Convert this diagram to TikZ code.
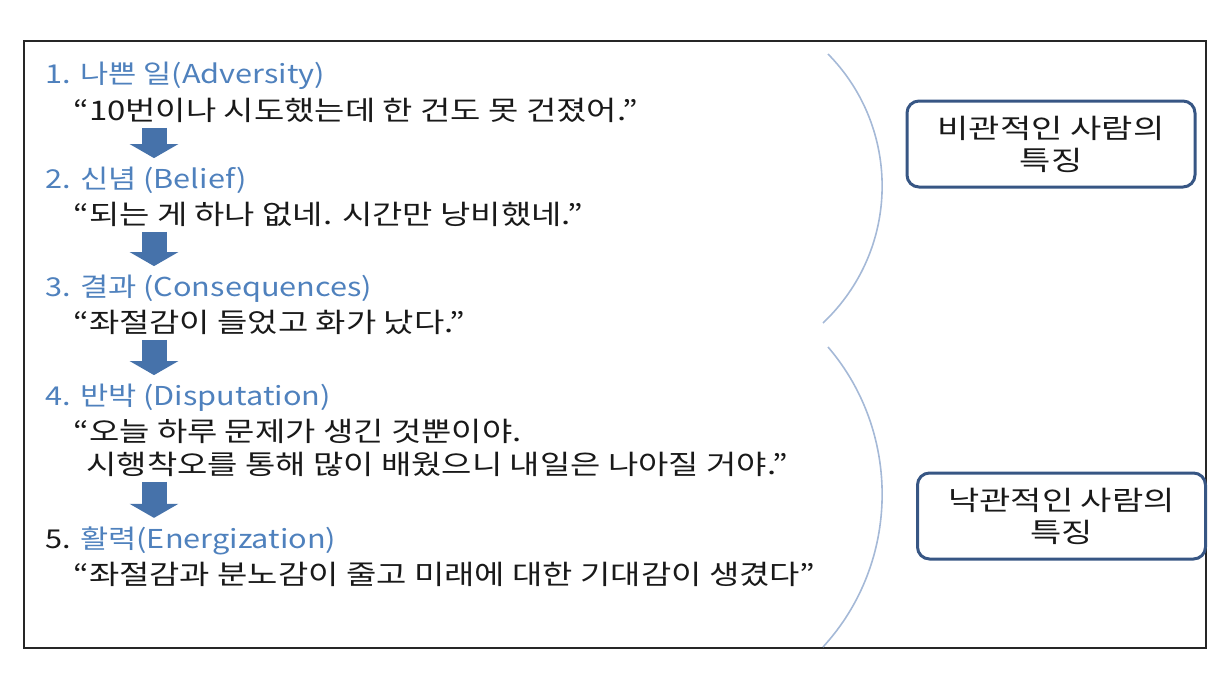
\documentclass[tikz,border=0pt]{standalone}
\usepackage{fontspec}
\setmainfont{Noto Sans CJK KR}
\newfontfamily\stagefont{Noto Sans CJK KR}[FakeStretch=1.18]
\newfontfamily\sayfont{Noto Sans CJK KR}[FakeStretch=1.22]
\newfontfamily\verdictfont{Noto Sans CJK KR}[FakeStretch=1.26]
\usetikzlibrary{arrows.meta,positioning}
\definecolor{headblue}{RGB}{79,129,189}
\definecolor{arrowblue}{RGB}{70,114,170}
\definecolor{boxblue}{RGB}{55,86,132}
\definecolor{arcblue}{RGB}{165,185,215}
\definecolor{saytext}{RGB}{25,25,25}

\begin{document}
\begin{tikzpicture}[x=0.5pt, y=-0.5pt,
		stage/.style={anchor=base west, inner sep=0pt, text=headblue, font=\stagefont\fontsize{13}{16}\selectfont},
		saying/.style={anchor=base west, inner sep=0pt, text=saytext, font=\sayfont\fontsize{13.5}{16}\selectfont},
		fatarrow/.style={draw=arrowblue, line width=12.5pt, -{Triangle[width=24pt, length=7pt]}, shorten <=2.7pt, shorten >=4pt},
		verdict/.style={draw=boxblue, line width=1.5pt, rounded corners=6pt, align=center, text=saytext, minimum width=144pt, minimum height=43pt, inner sep=0pt, font=\verdictfont\fontsize{13.5}{16}\selectfont},
		divider/.style={draw=arcblue, line width=0.8pt},
	]
	\useasboundingbox (0,0) rectangle (1223,686);
	\draw[line width=1pt, draw=black!85] (24,41) rectangle (1206,648);

	% the five steps
	\node (adv) [stage] at (45,83) {1. 나쁜 일(Adversity)};
	\node (adv q) [saying] at (73,120) {“10번이나 시도했는데 한 건도 못 건졌어.”};
	\node (bel) [stage] at (45,188) {2. 신념 (Belief)};
	\node (bel q) [saying] at (73,224) {“되는 게 하나 없네. 시간만 낭비했네.”};
	\node (con) [stage] at (45,296) {3. 결과 (Consequences)};
	\node (con q) [saying] at (73,332) {“좌절감이 들었고 화가 났다.”};
	\node (dis) [stage] at (45,405) {4. 반박 (Disputation)};
	\node (dis q) [saying] at (73,441) {“오늘 하루 문제가 생긴 것뿐이야.};
	\node (dis q2) [saying] at (86,474) {시행착오를 통해 많이 배웠으니 내일은 나아질 거야.”};
	\node (ene) [stage] at (45,548) {{\color{saytext}5.} 활력(Energization)};
	\node (ene q) [saying] at (73,584) {“좌절감과 분노감이 줄고 미래에 대한 기대감이 생겼다”};

	\coordinate (col) at (154,0);
	\draw[fatarrow] (adv q.south -| col) -- (bel.north -| col);
	\draw[fatarrow] (bel q.south -| col) -- (con.north -| col);
	\draw[fatarrow] (con q.south -| col) -- (dis.north -| col);
	\draw[fatarrow] (dis q2.south -| col) -- (ene.north -| col);

	% grouping arcs
	\draw[divider] (828,54) .. controls (901,128) and (901,249) .. (823,323);
	\draw[divider] (828,347) .. controls (901,432) and (901,562) .. (823,647);

	\node (pess) [verdict] at (1051,144) {비관적인 사람의\\특징};
	\node (opt) [verdict] at (1061.5,516) {낙관적인 사람의\\특징};
\end{tikzpicture}
\end{document}
